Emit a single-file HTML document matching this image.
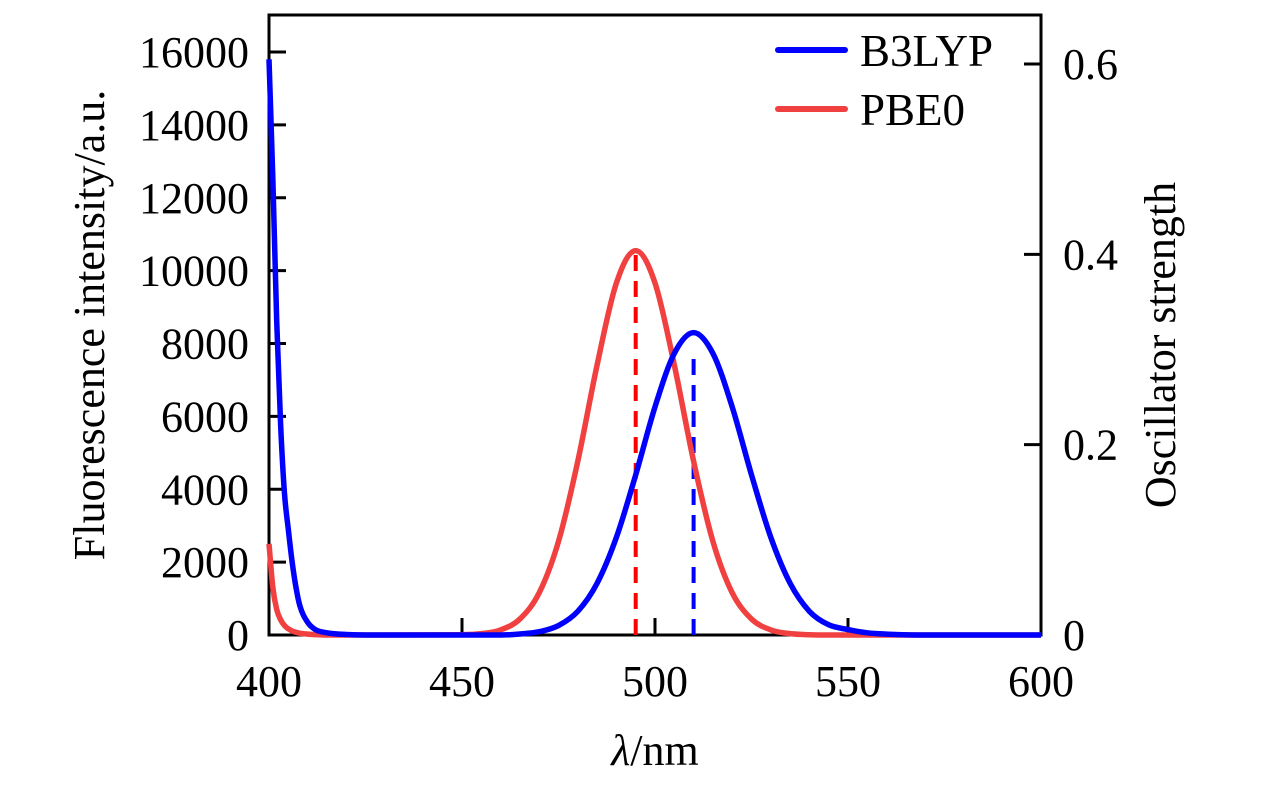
<!DOCTYPE html>
<html><head><meta charset="utf-8"><style>
html,body{margin:0;padding:0;background:#fff;}
svg{display:block;font-family:"Liberation Serif",serif;}
</style></head><body>
<svg id="chart" width="1276" height="787">
<g id="axes"></g>
<g id="marks"></g>
<g>
 <line x1="778" y1="50" x2="845" y2="50" stroke="#0000ff" stroke-width="6" stroke-linecap="round"/>
 <text x="860" y="66" font-size="45">B3LYP</text>
 <line x1="778" y1="109" x2="845" y2="109" stroke="#f04040" stroke-width="6" stroke-linecap="round"/>
 <text x="860" y="125" font-size="45">PBE0</text>
</g>
<text x="104" y="325" font-size="44" text-anchor="middle" transform="rotate(-90 104 325)">Fluorescence intensity/a.u.</text>
<text x="1175" y="345" font-size="44" text-anchor="middle" transform="rotate(-90 1175 345)">Oscillator strength</text>
<text x="655" y="765" font-size="44" text-anchor="middle"><tspan font-style="italic">λ</tspan>/nm</text>
</svg>
<script>
const wavelengths=[400,401,402,403,404,405,406,407,408,410,412,415,420,430,450,455,460,465,470,475,480,485,490,495,500,505,510,515,520,525,530,535,540,545,550,555,560,570,600];
const b3lypValues=[15800,12500,8600,5800,3900,2900,2000,1300,800,350,150,60,15,0,0,0,0,27,90,260,650,1420,2680,4395,6260,7730,8300,7730,6260,4395,2680,1420,650,280,150,60,25,0,0];
const pbe0Values=[2500,1300,700,420,260,170,110,75,50,25,10,0,0,0,8,37,140,440,1160,2570,4770,7410,9660,10550,9660,7410,4770,2570,1160,440,140,37,8,0,0,0,0,0,0];
const stickWavelengths=[510,495];
const stickStrengths=[0.294,0.402];
const stickColors=["#0000ff","#ff0000"];
const xTicks=[400,450,500,550,600];
const yLeftTicks=[0,2000,4000,6000,8000,10000,12000,14000,16000];
const yRightTicks=[0,0.2,0.4,0.6];
const yRightLabels=["0","0.2","0.4","0.6"];

const L=269,R=1041,T=15,B=635;
const xS=v=>L+(v-400)/200*(R-L);
const yL=v=>B-v/16000*583;
const yR=v=>B-v/0.6*571;
const NS="http://www.w3.org/2000/svg";
const axes=document.getElementById('axes'),marks=document.getElementById('marks');
function mk(tag,attrs,parent,txt){const e=document.createElementNS(NS,tag);for(const k in attrs)e.setAttribute(k,attrs[k]);if(txt!==undefined)e.textContent=txt;parent.appendChild(e);return e;}

const frame=mk('rect',{x:L,y:T,width:R-L,height:B-T,fill:'none',stroke:'#000','stroke-width':3},axes);


xTicks.forEach(v=>{
 const t=mk('line',{x1:xS(v),x2:xS(v),y1:B,y2:B-17,stroke:'#000','stroke-width':3},axes);
 
 
 const l=mk('text',{x:xS(v),y:B+61,'font-size':44,'text-anchor':'middle'},axes,String(v));
 
 
});
yLeftTicks.forEach(v=>{
 const t=mk('line',{x1:L,x2:L+17,y1:yL(v),y2:yL(v),stroke:'#000','stroke-width':3},axes);
 
 
 const l=mk('text',{x:L-20,y:yL(v)+15,'font-size':44,'text-anchor':'end'},axes,String(v));
 
 
});
yRightTicks.forEach((v,i)=>{
 const t=mk('line',{x1:R,x2:R-17,y1:yR(v),y2:yR(v),stroke:'#000','stroke-width':3},axes);
 
 
 const l=mk('text',{x:R+22,y:yR(v)+15,'font-size':44},axes,yRightLabels[i]);
 
 
});

function monoPath(xs,ys){
 const n=xs.length,px=xs.map(xS),py=ys.map(yL);
 const d=[],m=new Array(n);
 for(let i=0;i<n-1;i++)d.push((ys[i+1]-ys[i])/(xs[i+1]-xs[i]));
 m[0]=d[0];m[n-1]=d[n-2];
 for(let i=1;i<n-1;i++){m[i]=(d[i-1]*d[i]<=0)?0:(d[i-1]+d[i])/2;}
 for(let i=0;i<n-1;i++){if(d[i]===0){m[i]=0;m[i+1]=0;continue;}const a=m[i]/d[i],b=m[i+1]/d[i],s=a*a+b*b;if(s>9){const t=3/Math.sqrt(s);m[i]=t*a*d[i];m[i+1]=t*b*d[i];}}
 let p='M'+px[0]+','+py[0];
 for(let i=0;i<n-1;i++){const h=xs[i+1]-xs[i];
  const c1x=xS(xs[i]+h/3),c1y=yL(ys[i]+m[i]*h/3),c2x=xS(xs[i+1]-h/3),c2y=yL(ys[i+1]-m[i+1]*h/3);
  p+=` C${c1x},${c1y} ${c2x},${c2y} ${px[i+1]},${py[i+1]}`;}
 return p;
}
stickWavelengths.forEach((w,i)=>{
 const s=mk('line',{x1:xS(w),x2:xS(w),y1:B,y2:yR(stickStrengths[i]),stroke:stickColors[i],'stroke-width':4,'stroke-dasharray':'16,10'},marks);
 
 
});
const pb=mk('path',{d:monoPath(wavelengths,pbe0Values),fill:'none',stroke:'#f04040','stroke-width':5.5},marks);


const bl=mk('path',{d:monoPath(wavelengths,b3lypValues),fill:'none',stroke:'#0000ff','stroke-width':5.5},marks);


</script>
</body></html>
